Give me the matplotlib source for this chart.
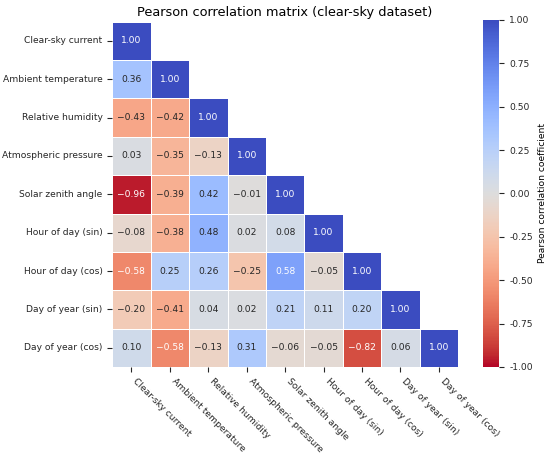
#!/usr/bin/env python3
"""Pearson correlation matrix heatmap (clear-sky dataset)"""
import numpy as np
import matplotlib
matplotlib.use('Agg')
import matplotlib.pyplot as plt
from matplotlib.ticker import FormatStrFormatter
import seaborn as sns

features = ['Clear-sky current', 'Ambient temperature', 'Relative humidity',
            'Atmospheric pressure', 'Solar zenith angle', 'Hour of day (sin)',
            'Hour of day (cos)', 'Day of year (sin)', 'Day of year (cos)']

# lower triangle rows
row_clear_sky = [1.00]
row_ambient = [0.36, 1.00]
row_humidity = [-0.43, -0.42, 1.00]
row_pressure = [0.03, -0.35, -0.13, 1.00]
row_zenith = [-0.96, -0.39, 0.42, -0.01, 1.00]
row_hour_sin = [-0.08, -0.38, 0.48, 0.02, 0.08, 1.00]
row_hour_cos = [-0.58, 0.25, 0.26, -0.25, 0.58, -0.05, 1.00]
row_day_sin = [-0.20, -0.41, 0.04, 0.02, 0.21, 0.11, 0.20, 1.00]
row_day_cos = [0.10, -0.58, -0.13, 0.31, -0.06, -0.05, -0.82, 0.06, 1.00]

rows = [row_clear_sky, row_ambient, row_humidity, row_pressure, row_zenith,
        row_hour_sin, row_hour_cos, row_day_sin, row_day_cos]

n = len(features)
corr = np.zeros((n, n))
for i, r in enumerate(rows):
    for j, v in enumerate(r):
        corr[i, j] = v
        corr[j, i] = v

# hide the upper triangle, keep the diagonal
mask = np.triu(np.ones_like(corr, dtype=bool), k=1)

# annotation text with a proper minus sign
labels = np.vectorize(lambda v: f'{v:.2f}'.replace('-', '\u2212'))(corr)

fig = plt.figure(figsize=(5.5, 4.53), dpi=100)
ax = fig.add_axes([0.204, 0.19, 0.629, 0.762])
cax = fig.add_axes([0.879, 0.19, 0.029, 0.766])

sns.heatmap(corr, mask=mask, ax=ax, cbar_ax=cax, cmap='coolwarm_r',
            vmin=-1, vmax=1, annot=labels, fmt='',
            annot_kws={'size': 6.6}, linewidths=0.5, linecolor='white',
            xticklabels=features, yticklabels=features,
            cbar_kws={'ticks': [-1, -0.75, -0.5, -0.25, 0, 0.25, 0.5, 0.75, 1]})

ax.set_title('Pearson correlation matrix (clear-sky dataset)', fontsize=9.3, pad=4)
ax.tick_params(axis='both', labelsize=6.6, colors='#262626')
plt.setp(ax.get_xticklabels(), rotation=-45, ha='left')
plt.setp(ax.get_yticklabels(), rotation=0)

cax.tick_params(labelsize=6.6, colors='#262626')
cax.yaxis.set_major_formatter(FormatStrFormatter('%.2f'))
cax.set_ylabel('Pearson correlation coefficient', fontsize=6.6)

fig.savefig('out.png', dpi=100)
